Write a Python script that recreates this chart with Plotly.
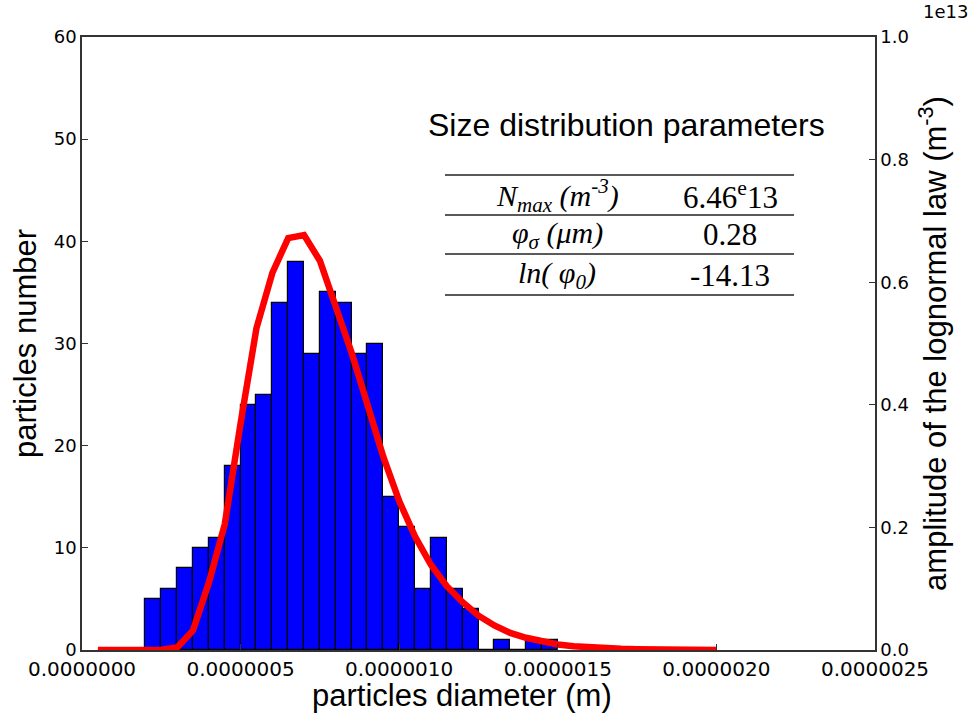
import plotly.graph_objects as go

# histogram: left edge of each bin (m) and counts
bin_left = [2.0e-7, 2.5e-7, 3.0e-7, 3.5e-7, 4.0e-7, 4.5e-7, 5.0e-7, 5.5e-7, 6.0e-7, 6.5e-7,
            7.0e-7, 7.5e-7, 8.0e-7, 8.5e-7, 9.0e-7, 9.5e-7, 1.0e-6, 1.05e-6, 1.1e-6, 1.15e-6,
            1.2e-6, 1.25e-6, 1.3e-6, 1.35e-6, 1.4e-6, 1.45e-6]
counts = [5, 6, 8, 10, 11, 18, 24, 25, 34, 38,
          29, 35, 34, 29, 30, 15, 12, 6, 11, 6,
          4, 0, 1, 0, 1, 1]
bin_width = 5e-8

# lognormal law (m, m^-3)
fit_x = [0.05e-6, 0.10e-6, 0.15e-6, 0.20e-6, 0.25e-6, 0.30e-6, 0.35e-6, 0.40e-6, 0.45e-6, 0.50e-6,
         0.55e-6, 0.60e-6, 0.65e-6, 0.70e-6, 0.75e-6, 0.80e-6, 0.85e-6, 0.90e-6, 0.95e-6, 1.00e-6,
         1.05e-6, 1.10e-6, 1.15e-6, 1.20e-6, 1.25e-6, 1.30e-6, 1.35e-6, 1.40e-6, 1.45e-6, 1.50e-6,
         1.55e-6, 1.60e-6, 1.65e-6, 1.70e-6, 1.75e-6, 1.80e-6, 1.85e-6, 1.90e-6, 1.95e-6, 2.00e-6]
fit_y = [0.0, 0.0, 0.0, 0.0, 0.0005e13, 0.004e13, 0.032e13, 0.11e13, 0.205e13, 0.37e13,
         0.525e13, 0.615e13, 0.672e13, 0.677e13, 0.635e13, 0.56e13, 0.485e13, 0.40e13, 0.315e13, 0.243e13,
         0.185e13, 0.139e13, 0.104e13, 0.078e13, 0.056e13, 0.040e13, 0.028e13, 0.020e13, 0.0135e13, 0.009e13,
         0.006e13, 0.004e13, 0.003e13, 0.002e13, 0.0013e13, 0.0008e13, 0.0005e13, 0.0003e13, 0.0002e13, 0.0001e13]

x_ticks = [0, 5e-7, 1e-6, 1.5e-6, 2e-6, 2.5e-6]
x_ticktext = ['0.0000000', '0.0000005', '0.0000010', '0.0000015', '0.0000020', '0.0000025']
y2_ticks = [0, 0.2e13, 0.4e13, 0.6e13, 0.8e13, 1.0e13]
y2_ticktext = ['0.0', '0.2', '0.4', '0.6', '0.8', '1.0']

table_labels = ['<i>N</i><sub><i>max</i></sub><i> (m<sup>-3</sup>)</i>',
                '<i>φ</i><sub><i>σ</i></sub><i> (μm)</i>',
                '<i>ln( φ</i><sub><i>0</i></sub><i>)</i>']
table_values = ['6.46<sup>e</sup>13', '0.28', '-14.13']

W, H = 976, 720
L, R, T, B = 82, 875, 37, 650


def px(x):
    return (x - L) / (R - L)


def py(y):
    return (B - y) / (B - T)


fig = go.Figure()
fig.add_trace(go.Bar(x=bin_left, y=counts, width=bin_width, offset=0,
                     marker=dict(color='#0000ff', line=dict(color='black', width=1.2)),
                     showlegend=False))
fig.add_trace(go.Scatter(x=fit_x, y=fit_y, mode='lines', yaxis='y2',
                         line=dict(color='#ff0000', width=6.5), showlegend=False))

tick_font = dict(family='DejaVu Sans', size=18, color='black')
title_font = dict(family='Liberation Sans Narrow, Liberation Sans', size=31, color='black')

fig.update_layout(
    width=W, height=H,
    margin=dict(l=L, r=W - R, t=T, b=H - B),
    plot_bgcolor='white', paper_bgcolor='white',
    bargap=0,
    xaxis=dict(range=[0, 2.5e-6], tickvals=x_ticks, ticktext=x_ticktext, automargin=False,
               tickfont=dict(family='DejaVu Sans', size=20, color='black'),
               showline=True, linecolor='#333', linewidth=1.5, mirror=True,
               ticks='inside', ticklen=6, tickcolor='#333', showgrid=False, zeroline=False),
    yaxis=dict(range=[0, 60], dtick=10, tickfont=tick_font, automargin=False,
               showline=True, linecolor='#333', linewidth=1.5,
               ticks='inside', ticklen=6, tickcolor='#333', showgrid=False, zeroline=False,
               title=dict(text='particles number', font=title_font, standoff=8)),
    yaxis2=dict(range=[0, 1e13], overlaying='y', side='right', automargin=False,
                tickvals=y2_ticks, ticktext=y2_ticktext, tickfont=tick_font,
                showline=True, linecolor='#333', linewidth=1.5,
                ticks='inside', ticklen=6, tickcolor='#333', showgrid=False, zeroline=False,
                title=dict(text='amplitude of the lognormal law (m<sup>-3</sup>)', font=title_font, standoff=16)),
)

# x axis title, placed by hand to sit close to the tick labels
fig.add_annotation(text='particles diameter (m)', xref='paper', yref='paper', x=px(462), y=py(696),
                   showarrow=False, xanchor='center', yanchor='middle', font=title_font)

# offset text of the right axis
fig.add_annotation(text='1e13', xref='paper', yref='paper', x=px(945), y=py(12),
                   showarrow=False, font=dict(family='DejaVu Sans', size=18, color='black'),
                   xanchor='center', yanchor='middle')

# parameter table
fig.add_annotation(text='Size distribution parameters', xref='paper', yref='paper',
                   x=px(626), y=py(125), showarrow=False, xanchor='center', yanchor='middle',
                   font=dict(family='Liberation Sans, Arial', size=32, color='black'))
for yl in [175, 215, 254, 295]:
    fig.add_shape(type='line', xref='paper', yref='paper', x0=px(445), x1=px(794),
                  y0=py(yl), y1=py(yl), line=dict(color='#222', width=1.5))
row_y = [195, 235, 275]
for lab, val, yr in zip(table_labels, table_values, row_y):
    fig.add_annotation(text=lab, xref='paper', yref='paper', x=px(557), y=py(yr),
                       showarrow=False, xanchor='center', yanchor='middle',
                       font=dict(family='Liberation Serif', size=30, color='black'))
    fig.add_annotation(text=val, xref='paper', yref='paper', x=px(730), y=py(yr),
                       showarrow=False, xanchor='center', yanchor='middle',
                       font=dict(family='Liberation Serif', size=31, color='black'))

# drop the page's default body margin so the figure sits at the window corner
fig.write_html('out.html', config={'displayModeBar': False},
               post_script="document.body.style.margin='0';")
